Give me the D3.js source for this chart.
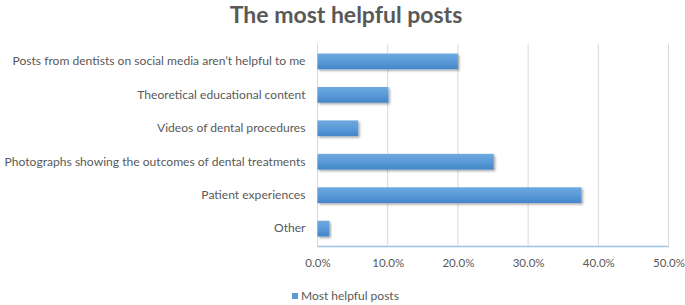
<!DOCTYPE html>
<html><head><meta charset="utf-8">
<script src="https://cdn.jsdelivr.net/npm/d3@7"></script>
<style>body{margin:0;background:#fff}svg{display:block}</style>
</head><body>
<svg id="c" width="685" height="305"></svg>
<script>
const categories = ["Posts from dentists on social media aren\u2019t helpful to me","Theoretical educational content","Videos of dental procedures","Photographs showing the outcomes of dental treatments","Patient experiences","Other"];
const values = [20.0, 10.1, 5.8, 25.1, 37.6, 1.7];
const tickValues = [0, 10, 20, 30, 40, 50];
const seriesName = "Most helpful posts";
const titleText = "The most helpful posts";

(function(){
const svg = d3.select("#c");
const font = "Lato, 'Open Sans', sans-serif";
const pLeft = 317.5, pRight = 668.5, pTop = 43.5, pBottom = 246.5;

const defs = svg.append("defs");
const g = defs.append("linearGradient").attr("id","bg").attr("x1",0).attr("y1",0).attr("x2",0).attr("y2",1);
g.append("stop").attr("offset","0%").attr("stop-color","#6ea9df");
g.append("stop").attr("offset","50%").attr("stop-color","#5a9ad8");
g.append("stop").attr("offset","100%").attr("stop-color","#4386c8");
const f = defs.append("filter").attr("id","sh").attr("x","-10%").attr("y","-30%").attr("width","130%").attr("height","180%");
f.append("feDropShadow").attr("dx",1.5).attr("dy",1.5).attr("stdDeviation",1.2).attr("flood-color","#000").attr("flood-opacity",0.35);

const x = d3.scaleLinear().domain([0,50]).range([pLeft,pRight]);
const y = d3.scaleBand().domain(categories).range([pTop,pBottom]).paddingInner(0.53).paddingOuter(0.3);

svg.append("g").selectAll("line").data(tickValues.slice(1)).join("line")
  .attr("x1",d=>x(d)).attr("x2",d=>x(d)).attr("y1",pTop).attr("y2",pBottom)
  .attr("stroke","#d9d9d9").attr("stroke-width",1);
svg.append("line").attr("x1",pLeft).attr("x2",pLeft).attr("y1",pTop).attr("y2",pBottom).attr("stroke","#d9d9d9");

svg.append("g").selectAll("rect").data(values).join("rect")
  .attr("x",x(0)).attr("y",(d,i)=>y(categories[i]))
  .attr("width",d=>x(d)-x(0)).attr("height",y.bandwidth())
  .attr("fill","url(#bg)").attr("filter","url(#sh)");

svg.append("line").attr("x1",pLeft).attr("x2",pRight).attr("y1",pBottom).attr("y2",pBottom)
  .attr("stroke","#9dc3e6").attr("stroke-width",1.3);

const xAxis = d3.axisBottom(x).tickValues(tickValues).tickSize(0).tickPadding(0).tickFormat(d=>d3.format(".1f")(d)+"%");
const xa = svg.append("g").attr("transform",`translate(0,${pBottom+12})`).call(xAxis);
xa.select(".domain").remove();
xa.selectAll("text").attr("font-family",font).attr("font-size","11.5px").attr("fill","#595959");

const yAxis = d3.axisLeft(y).tickSize(0).tickPadding(12);
const ya = svg.append("g").attr("transform",`translate(${pLeft},0)`).call(yAxis);
ya.select(".domain").remove();
ya.selectAll("text").attr("font-family",font).attr("font-size","12.1px").attr("fill","#595959");

svg.append("text").attr("x",346).attr("y",23).attr("text-anchor","middle")
  .attr("font-family",font).attr("font-weight","bold").attr("font-size","23px").attr("fill","#595959").text(titleText);

svg.append("rect").attr("x",292).attr("y",293).attr("width",6).attr("height",6).attr("fill","#5b9bd5");
svg.append("text").attr("x",301).attr("y",300).attr("font-family",font).attr("font-size","12px").attr("fill","#595959").text(seriesName);
})();
</script>
</body></html>
